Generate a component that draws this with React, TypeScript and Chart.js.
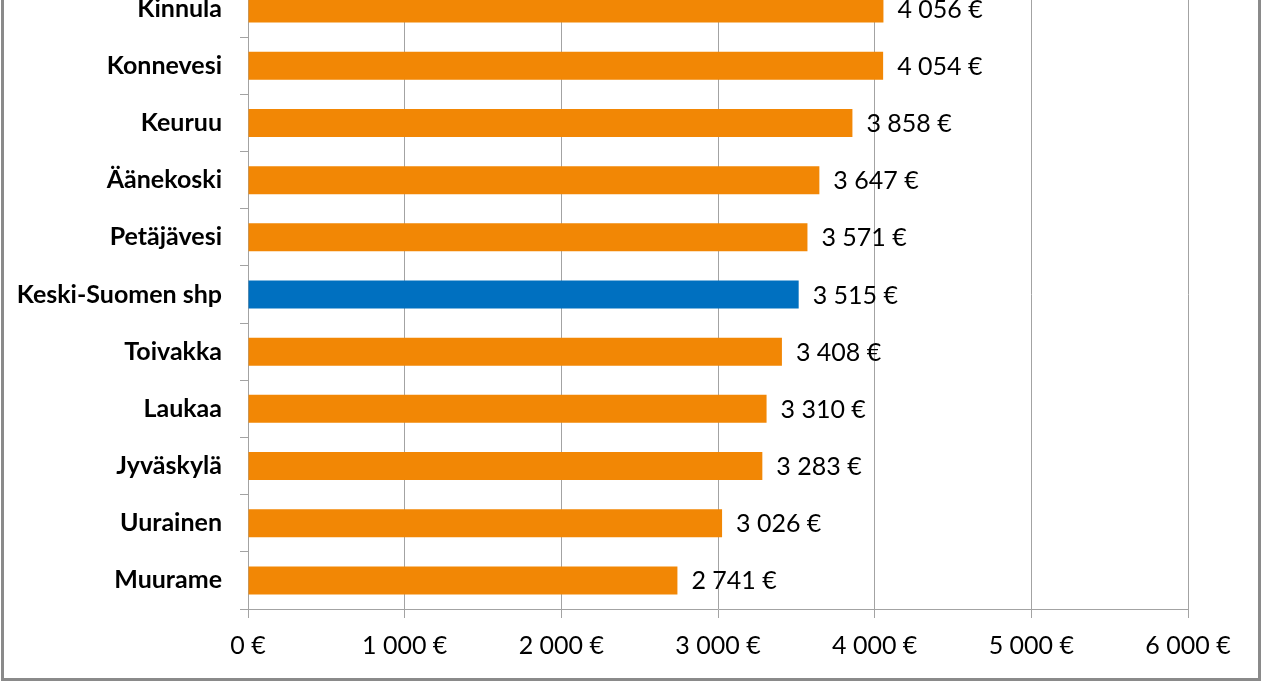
import React, { useEffect, useRef } from "react";
import { Chart, registerables } from "chart.js";

Chart.register(...registerables);

const categories = [
  "Kinnula",
  "Konnevesi",
  "Keuruu",
  "Äänekoski",
  "Petäjävesi",
  "Keski-Suomen shp",
  "Toivakka",
  "Laukaa",
  "Jyväskylä",
  "Uurainen",
  "Muurame",
];
const values = [4056, 4054, 3858, 3647, 3571, 3515, 3408, 3310, 3283, 3026, 2741];
const highlight = "Keski-Suomen shp";
const xTicks = [0, 1000, 2000, 3000, 4000, 5000, 6000];

const ORANGE = "#F28705";
const BLUE = "#0070C0";
const GRID = "#A3A3A3";

function fmt(v: number): string {
  const s = Math.round(v).toString();
  return s.replace(/\B(?=(\d{3})+(?!\d))/g, " ") + " €";
}

const valueLabels = {
  id: "valueLabels",
  afterDatasetsDraw(chart: any) {
    const ctx = chart.ctx;
    const meta = chart.getDatasetMeta(0);
    ctx.save();
    ctx.font = "25px Lato";
    ctx.fillStyle = "#000";
    ctx.textAlign = "left";
    ctx.textBaseline = "middle";
    meta.data.forEach((el: any, i: number) => {
      ctx.fillText(fmt(values[i]), el.x + 14, el.y + 1);
    });
    ctx.restore();
  },
};

const TOP = -53;
const H = 683 - TOP;

export default function App() {
  const ref = useRef<HTMLCanvasElement | null>(null);
  useEffect(() => {
    if (!ref.current) return;
    const chart = new Chart(ref.current, {
      type: "bar",
      data: {
        labels: categories,
        datasets: [
          {
            data: values,
            backgroundColor: categories.map((c) => (c === highlight ? BLUE : ORANGE)),
            borderWidth: 0,
            categoryPercentage: 1,
            barPercentage: 0.49,
          },
        ],
      },
      options: {
        indexAxis: "y",
        responsive: false,
        animation: false,
        devicePixelRatio: 1,
        layout: { padding: { top: 18.7, right: 74, left: 0, bottom: 0 } },
        plugins: { legend: { display: false }, tooltip: { enabled: false } },
        scales: {
          x: {
            min: 0,
            max: 6000,
            afterBuildTicks(scale: any) {
              scale.ticks = xTicks.map((v) => ({ value: v }));
            },
            afterFit(scale: any) {
              scale.height = H - (609 - TOP);
            },
            grid: {
              color: GRID,
              lineWidth: 1,
              drawOnChartArea: true,
              drawTicks: true,
              tickLength: 9,
            },
            border: { display: true, color: GRID, width: 1 },
            ticks: {
              font: { family: "Lato", size: 25 },
              color: "#000",
              padding: 13,
              maxRotation: 0,
              callback: (v: any) => fmt(Number(v)),
            },
          },
          y: {
            afterFit(scale: any) {
              scale.width = 248;
            },
            grid: {
              color: GRID,
              offset: true,
              drawOnChartArea: false,
              drawTicks: true,
              tickLength: 8,
            },
            border: { display: true, color: GRID, width: 1 },
            ticks: {
              font: { family: "Lato", size: 25, weight: "bold" },
              color: "#000",
              padding: 18,
            },
          },
        },
      },
      plugins: [valueLabels],
    });
    return () => chart.destroy();
  }, []);

  return (
    <div
      style={{
        position: "fixed",
        left: 0,
        top: 0,
        width: 1262,
        height: 683,
        overflow: "hidden",
        background: "#fff",
      }}
    >
      <canvas
        ref={ref}
        width={1262}
        height={H}
        style={{ position: "absolute", left: 0, top: TOP, width: 1262, height: H }}
      />
      <div
        style={{
          position: "absolute",
          left: 1,
          top: -20,
          width: 1254,
          height: 698,
          borderLeft: "3px solid #8a8a8a",
          borderRight: "3px solid #8a8a8a",
          borderBottom: "3px solid #8a8a8a",
          pointerEvents: "none",
        }}
      />
    </div>
  );
}
